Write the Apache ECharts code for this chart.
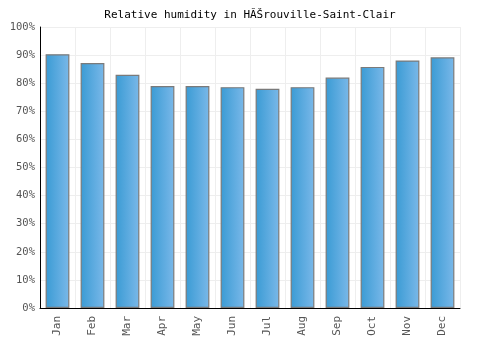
<!DOCTYPE html>
<html>
<head>
<meta charset="utf-8">
<script src="https://cdn.jsdelivr.net/npm/echarts@6/dist/echarts.min.js"></script>
<style>
  html, body { margin: 0; padding: 0; background: #fff; }
  #chart { width: 500px; height: 350px; }
</style>
</head>
<body>
<div id="chart"></div>
<script>
const months = ['Jan', 'Feb', 'Mar', 'Apr', 'May', 'Jun', 'Jul', 'Aug', 'Sep', 'Oct', 'Nov', 'Dec'];
const humidity = [90.3, 87.2, 83, 79, 79, 78.6, 78, 78.6, 82, 85.8, 88.1, 89.2];
const titleText = 'Relative humidity in HĂŠrouville-Saint-Clair';

const font = '"DejaVu Sans Mono", monospace';
const chart = echarts.init(document.getElementById('chart'));
chart.setOption({
  animation: false,
  title: {
    text: titleText,
    left: 'center',
    top: 5,
    textStyle: { fontFamily: font, fontSize: 11, fontWeight: 'normal', color: '#000' }
  },
  grid: { left: 40, right: 40, top: 27, bottom: 42 },
  xAxis: {
    type: 'category',
    data: months,
    axisLine: { lineStyle: { color: '#000' } },
    axisTick: { show: false },
    axisLabel: { rotate: 90, color: '#555', fontFamily: font, fontSize: 11, margin: 8 },
    splitLine: { show: true, lineStyle: { color: '#eee' } }
  },
  yAxis: {
    type: 'value',
    min: 0,
    max: 100,
    interval: 10,
    axisLine: { show: true, lineStyle: { color: '#000' } },
    axisTick: { show: false },
    axisLabel: { formatter: '{value}%', color: '#555', fontFamily: font, fontSize: 10.5, margin: 5 },
    splitLine: { lineStyle: { color: '#eee' } }
  },
  series: [{
    type: 'bar',
    data: humidity,
    barWidth: '68%',
    itemStyle: {
      borderColor: '#7a7a7a',
      borderWidth: 1.2,
      color: new echarts.graphic.LinearGradient(0, 0, 1, 0, [
        { offset: 0, color: '#3a9bd4' },
        { offset: 1, color: '#7ab8e9' }
      ])
    }
  }]
});
</script>
</body>
</html>
